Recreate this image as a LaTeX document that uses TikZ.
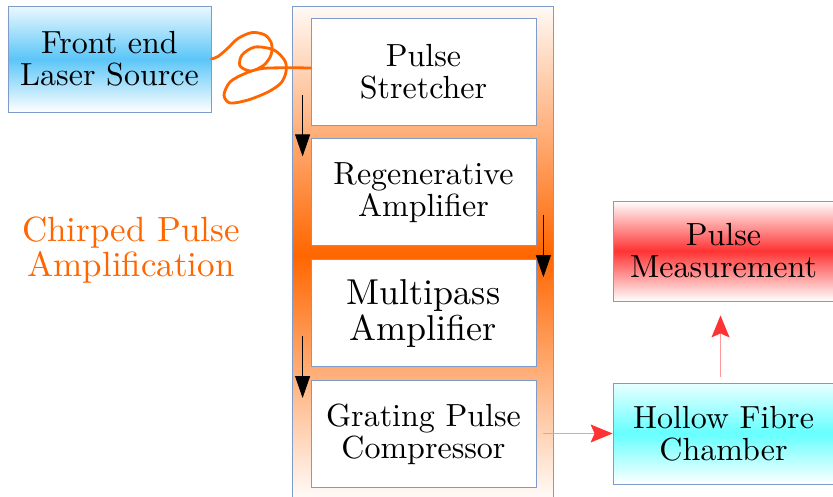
\documentclass[tikz,border=0pt]{standalone}
\usepackage{fontspec}
\setmainfont{lmroman10-regular.otf}
\definecolor{frame}{HTML}{7E9BC9}
\definecolor{cOrange}{HTML}{FF6600}
\definecolor{cSky}{HTML}{5BC6F8}
\definecolor{cRed}{HTML}{FF3333}
\definecolor{cPink}{HTML}{FF9999}
\definecolor{cCyan}{HTML}{66FFFF}
\usetikzlibrary{arrows.meta,positioning,calc}
\tikzset{
  box/.style={draw=frame,line width=0.8pt,align=center,inner sep=0pt,
    font=\fontsize{32}{32}\selectfont},
  stage/.style={box,fill=white,minimum width=225pt,minimum height=107pt},
  bluebox/.style={box,top color=cSky!12,bottom color=white,middle color=cSky,
    minimum width=203pt,minimum height=106pt},
  redbox/.style={box,top color=white,bottom color=white,middle color=cRed,
    minimum width=221pt,minimum height=100pt},
  cyanbox/.style={box,top color=cCyan!15,bottom color=white,middle color=cCyan,
    minimum width=221pt,minimum height=101pt},
  flowk/.style={-{Triangle[length=22pt,width=15pt]},line width=0.8pt},
  flowr/.style={-{Stealth[length=22pt,width=18pt,inset=4pt,color=cRed]},
    cPink,line width=1pt},
  fibre/.style={cOrange,line width=2.8pt,line cap=round}
}
\begin{document}
\begin{tikzpicture}[x=1pt,y=-1pt]
  \useasboundingbox (0,0) rectangle (833,496);
  \clip (0,0) rectangle (833,496);
  % CPA column
  \path[draw=frame,line width=0.8pt,top color=cOrange!4,bottom color=white,
    middle color=cOrange] (292,6) rectangle (553,505);
  \node[cOrange,align=center,font=\fontsize{35}{35}\selectfont] (cpa) at (131,250)
    {Chirped Pulse\\Amplification};

  \node[bluebox] (fe) at (109.5,59) {Front end\\Laser Source};
  \node[stage] (ps) at (423.5,71.5) {Pulse\\Stretcher};
  \node[stage,below=13pt of ps] (ra) {Regenerative\\Amplifier};
  \node[stage,below=13pt of ra,font=\fontsize{36}{36}\selectfont] (mp) {Multipass\\Amplifier};
  \node[stage,below=13pt of mp] (gc) {Grating Pulse\\Compressor};
  \node[redbox] (pm) at (723.5,251) {Pulse\\Measurement};
  \node[cyanbox] (hf) at (723.5,433.5) {Hollow Fibre\\Chamber};

  % fibre coupling
  \draw[fibre] plot[smooth,tension=0.5] coordinates {(fe.east) (218,56.5)
    (228,48) (238,38.5) (252,32.5) (265,35) (271.5,43.5) (271,55) (264,65)
    (251,71) (240,66) (242,55) (255,47) (274,50) (285,61) (286,72) (281,83)
    (268,92) (248,100) (230,103) (224,95) (230,82) (245,73.5) (262,68.5)
    (288,67.8) ([yshift=3.5pt]ps.west)};

  \draw[flowk] ([xshift=-8pt,yshift=30pt]ps.south west) -- ([xshift=-8pt,yshift=-18pt]ra.north west);
  \draw[flowk] ([xshift=7pt,yshift=31pt]ra.south east) -- ([xshift=7pt,yshift=-18pt]mp.north east);
  \draw[flowk] ([xshift=-8pt,yshift=31pt]mp.south west) -- ([xshift=-8pt,yshift=-18pt]gc.north west);
  \draw[flowr] ([xshift=7pt]gc.east |- hf.west) -- (hf.west);
  \draw[flowr] ([xshift=-3pt,yshift=6pt]hf.north) -- ([xshift=-3pt,yshift=-14pt]pm.south);
\end{tikzpicture}
\end{document}
